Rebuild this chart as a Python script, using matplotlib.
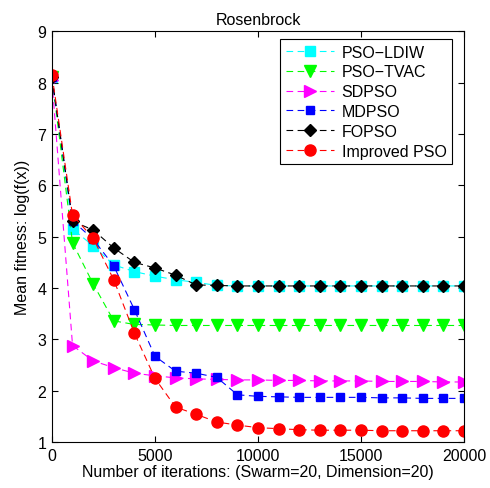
import numpy as np
import matplotlib
matplotlib.use('Agg')
import matplotlib.pyplot as plt

plt.rcParams['font.family'] = ['Liberation Sans', 'DejaVu Sans']
plt.rcParams['font.size'] = 11.5

# iteraciones (cada 1000)
iters = np.arange(0, 21000, 1000)

# fitness medio log(f(x)) por algoritmo
pso_ldiw = [8.10, 5.15, 4.82, 4.45, 4.32, 4.23, 4.16, 4.11, 4.05, 4.04, 4.04,
            4.04, 4.04, 4.04, 4.04, 4.04, 4.04, 4.04, 4.04, 4.04, 4.04]
pso_tvac = [8.10, 4.88, 4.08, 3.36, 3.29, 3.28, 3.27, 3.27, 3.27, 3.27, 3.27,
            3.27, 3.27, 3.27, 3.27, 3.27, 3.27, 3.27, 3.27, 3.27, 3.27]
sdpso = [8.05, 2.88, 2.58, 2.45, 2.34, 2.29, 2.25, 2.23, 2.22, 2.21, 2.21,
         2.20, 2.20, 2.19, 2.19, 2.19, 2.18, 2.18, 2.18, 2.17, 2.17]
mdpso = [8.10, 5.31, 4.95, 4.43, 3.58, 2.67, 2.38, 2.34, 2.26, 1.92, 1.89,
         1.88, 1.87, 1.87, 1.87, 1.87, 1.86, 1.86, 1.85, 1.85, 1.85]
fopso = [8.10, 5.30, 5.13, 4.78, 4.50, 4.39, 4.25, 4.06, 4.05, 4.04, 4.04,
         4.04, 4.04, 4.04, 4.04, 4.04, 4.04, 4.04, 4.04, 4.04, 4.04]
improved = [8.15, 5.42, 4.97, 4.16, 3.12, 2.24, 1.68, 1.54, 1.39, 1.33, 1.28,
            1.26, 1.24, 1.23, 1.23, 1.23, 1.22, 1.22, 1.22, 1.22, 1.22]

fig = plt.figure(figsize=(4.9, 4.89), dpi=100)
ax = fig.add_axes([0.106, 0.094, 0.841, 0.840])

estilo = dict(linestyle='--', linewidth=0.8, dashes=(6, 4))
ax.plot(iters, pso_ldiw, color='cyan', marker='s', markersize=6.5, label='PSO\u2212LDIW', **estilo)
ax.plot(iters, pso_tvac, color='#00ff00', marker='v', markersize=8, label='PSO\u2212TVAC', **estilo)
ax.plot(iters, sdpso, color='magenta', marker='>', markersize=8, label='SDPSO', **estilo)
ax.plot(iters, mdpso, color='blue', marker='s', markersize=6, label='MDPSO', **estilo)
ax.plot(iters, fopso, color='black', marker='D', markersize=6, label='FOPSO', **estilo)
ax.plot(iters, improved, color='red', marker='o', markersize=8, label='Improved PSO', **estilo)

ax.set_xlim(0, 20000)
ax.set_ylim(1, 9)
ax.set_xticks([0, 5000, 10000, 15000, 20000])
ax.set_yticks(range(1, 10))
ax.tick_params(direction='in', top=True, right=True, length=4, labelsize=11.5, pad=4)
ax.set_xlabel('Number of iterations: (Swarm=20, Dimension=20)', labelpad=1)
ax.set_ylabel('Mean fitness: log(f(x))', labelpad=5)
ax.set_title('Rosenbrock', fontsize=11.5, pad=5)

leg = ax.legend(loc='upper right', bbox_to_anchor=(0.971, 0.981), borderaxespad=0,
                fancybox=False, edgecolor='black', framealpha=1,
                handlelength=3.0, handletextpad=0.5, labelspacing=0.3,
                borderpad=0.35, fontsize=11.5)
leg.get_frame().set_linewidth(0.8)

fig.savefig('out.png', dpi=100)
